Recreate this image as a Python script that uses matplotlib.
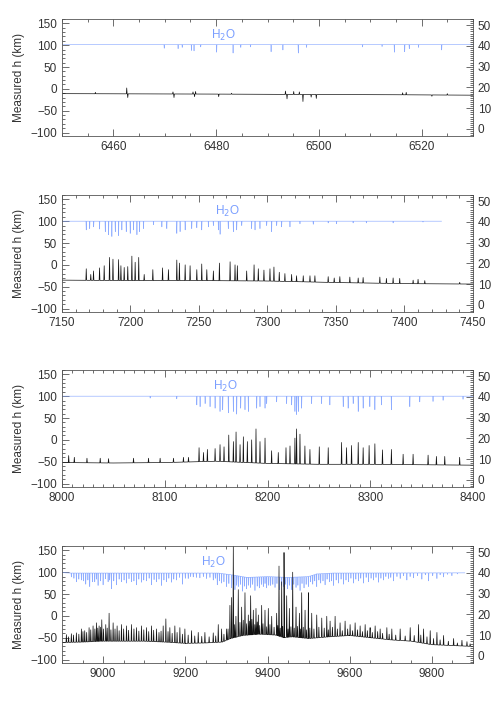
import numpy as np
import matplotlib.pyplot as plt
from matplotlib.ticker import MultipleLocator

plt.rcParams['font.family'] = ['Liberation Sans', 'DejaVu Sans']

# ---- panel 1 (6450-6530) ----
p1_base_x = [6450, 6465, 6480, 6500, 6515, 6530]
p1_base_y = [-11, -11.5, -12, -13, -13.5, -14.5]
p1_line_x = [6456.5, 6462.6, 6462.8, 6471.6, 6471.8, 6475.5, 6475.8, 6476.0, 6480.5, 6483,
             6493.5, 6493.8, 6495.1, 6496.2, 6496.9, 6498.5, 6499.5, 6516.3, 6517.0, 6522, 6525]
p1_line_y = [-8, 2, -20, -7, -20, -7, -18, -6, -18, -10,
             -5, -23, -6, -7, -29, -19, -22, -9, -8, -17, -11]
p1_h2o_base_x = [6450, 6530]
p1_h2o_base_y = [101.5, 101.5]
p1_h2o_x = [6469.9, 6472.6, 6473.4, 6475.2, 6475.7, 6477, 6480.1, 6483.3, 6484.8, 6486.7, 6490.7,
            6493, 6496, 6497.6, 6508.5, 6512.3, 6514.7, 6516.7, 6517.6, 6519.4, 6523.9]
p1_h2o_y = [93, 92, 95, 88, 87, 96, 84, 82, 95, 96, 85,
            89, 82, 95, 96, 97, 84, 85, 92, 95, 89]

# ---- panel 2 (7150-7450) ----
p2_base_x = [7150, 7200, 7250, 7300, 7350, 7400, 7450]
p2_base_y = [-35, -36, -36, -37, -40.5, -43, -44]
p2_line_x = [7167.7, 7171, 7173, 7177.4, 7180.8, 7184.7, 7187.2, 7191.3, 7193, 7195.4, 7198, 7201,
             7203.4, 7206, 7210, 7216.3, 7223.4, 7227.7, 7233.8, 7235.7, 7239.9, 7243.5, 7248.4,
             7252, 7255.7, 7260.5, 7264.9, 7272.7, 7276.3, 7278, 7284.8, 7290.2, 7293.3, 7297.4,
             7301.8, 7304.7, 7308.6, 7312.7, 7317.6, 7321.2, 7326.1, 7331, 7334.6, 7344.3,
             7348.7, 7352.8, 7360.1, 7366.2, 7369.8, 7382, 7386.8, 7391.7, 7396.5, 7406.3,
             7409.9, 7414.8, 7440.3]
p2_line_y = [-9, -22, -14, -7, -2, 17, 13, 12, -2, -6, -4, 20,
             6, 17, -22, -11, -7, -11, 11, 4, 0, -2, -11,
             2, -11, -14, 4, 7, 0, -2, -14, 0, -9, -12,
             -9, -5, -17, -20, -22, -25, -25, -25, -25, -27,
             -30, -27, -28, -30, -29, -28, -31, -30, -31, -35,
             -33, -36, -40]
p2_h2o_base_x = [7150, 7427]
p2_h2o_base_y = [100, 100]
p2_h2o_x = [7167.7, 7170.2, 7173.1, 7177.4, 7181.6, 7184, 7186.4, 7188.9, 7191.3, 7193.7, 7196.9,
            7199.8, 7202.2, 7204.7, 7206.6, 7209.5, 7216.8, 7222.9, 7226.5, 7233.8, 7236.2,
            7239.9, 7244.7, 7248.4, 7252, 7256.9, 7260.5, 7264.2, 7265.4, 7271.4, 7275.1,
            7277.5, 7281.2, 7288.4, 7290.9, 7294.5, 7299.4, 7303, 7306.7, 7310.3, 7316.4,
            7323.7, 7333.4, 7344.3, 7350.4, 7362.5, 7372.2, 7391.7, 7413.5]
p2_h2o_y = [80, 83, 87, 82, 76, 69, 65, 76, 67, 80, 76,
            72, 80, 69, 76, 83, 92, 87, 83, 72, 76,
            80, 83, 85, 80, 87, 90, 80, 70, 83, 76,
            80, 90, 83, 80, 83, 90, 76, 90, 87, 87,
            94, 93, 96, 94, 96, 96, 96, 98]

# ---- panel 3 (8000-8400) ----
p3_base_x = [8000, 8050, 8100, 8150, 8200, 8250, 8300, 8350, 8400]
p3_base_y = [-52, -53, -52, -49, -54, -56, -56, -57, -58]
p3_line_x = [8006.5, 8012, 8024.3, 8037.2, 8045.3, 8069.6, 8084.2, 8095.5, 8108.5, 8118.2, 8123.1,
             8133.4, 8137.7, 8141.5, 8149, 8153.8, 8157.7, 8162.3, 8166.8, 8169.4, 8173.3,
             8176.5, 8180.4, 8184.6, 8188.8, 8192.7, 8197.6, 8204, 8210.5, 8218, 8221.9,
             8226.7, 8228.3, 8231.6, 8236.4, 8241.3, 8250.4, 8259.1, 8272.1, 8276.9, 8281.8,
             8288.3, 8293.1, 8298.9, 8304.5, 8311.9, 8320.6, 8332, 8341.7, 8356.3, 8364.4,
             8372.5, 8387]
p3_line_y = [-36, -40, -42, -42, -43, -42, -42, -42, -42, -40, -40,
             -18, -29, -22, -20, -11, -16, 11, -4, 18, -11,
             7, -4, 0, 25, -4, 4, -25, -29, -18, -14,
             4, 25, 13, -14, -22, -16, -18, -6, -18, -13,
             -6, -18, -13, -9, -23, -22, -33, -33, -35, -38,
             -38, -40]
p3_h2o_base_x = [8000, 8400]
p3_h2o_base_y = [100, 100]
p3_h2o_x = [8085.8, 8111.7, 8131.2, 8134.4, 8139.3, 8144.1, 8149, 8153.8, 8156.4, 8161.9, 8166.8,
            8170, 8173.9, 8178.1, 8181.4, 8189.5, 8192.7, 8197.6, 8199.2, 8208.9, 8218.6,
            8223.5, 8226.7, 8228.3, 8230, 8233.2, 8242.9, 8252.6, 8260.7, 8273.7, 8278.5,
            8283.4, 8288.3, 8293.1, 8299.6, 8304.5, 8310.9, 8320.6, 8338.5, 8348.2, 8361.1,
            8370.9, 8390.3]
p3_h2o_y = [95.6, 94, 80, 76, 83, 76, 72.5, 65, 69, 62, 65,
            59, 72.5, 69, 65, 72.5, 76, 72.5, 83, 87, 83,
            80, 65, 58, 65, 72.5, 83, 83, 80, 76, 72.5,
            83, 65, 72.5, 76, 69, 80, 69, 76, 87, 88,
            90.6, 93]

# ---- panel 4 (8900-9900) ----
p4_base_x = [8900, 8950, 9000, 9100, 9150, 9200, 9250, 9290, 9310, 9340, 9380, 9420, 9440,
             9460, 9500, 9550, 9600, 9650, 9700, 9750, 9800, 9850, 9900]
p4_base_y = [-61, -60, -58, -58, -60, -63, -62, -60, -52, -45, -42, -44, -50,
             -48, -52, -48, -45, -50, -55, -58, -66, -68, -70]
p4_line_x = [8910.7, 8922.8, 8935, 8947.2, 8955.3, 8965.9, 8975.6, 8983.8, 8990.3, 8996.8,
             9006.5, 9014.6, 9024.4, 9034.1, 9044.7, 9056.9, 9069, 9081.2, 9093.4, 9105.6,
             9117.8, 9130, 9146.2, 9152.7, 9162.4, 9174.6, 9186.8, 9199, 9215.2, 9231.5,
             9247.7, 9268, 9280.2, 9288.3, 9300.5, 9308.6, 9312.7, 9316.8, 9323.2, 9328.9,
             9337.1, 9345.2, 9353.3, 9359, 9365.5, 9372, 9377.7, 9385.8, 9393.9, 9402,
             9410.2, 9422.3, 9428, 9434.5, 9440.2, 9446.7, 9453.2, 9461.3, 9469.4, 9477.6,
             9483.2, 9491.4, 9499.5, 9507.6, 9519.8, 9532, 9544.2, 9552.3, 9564.5, 9576.6,
             9588.8, 9601, 9613.2, 9625.4, 9637.6, 9649.7, 9661.9, 9674.1, 9690.4, 9702.5,
             9722.8, 9747.2, 9767.5, 9779.7, 9795.9, 9812.2, 9828.4, 9852.8, 9873.1, 9885.3]
p4_line_y = [-43, -41, -39, -30, -34, -27, -23, -16, -23, -9,
             -20, 6, -16, -23, -20, -23, -20, -27, -23, -27,
             -23, -30, -23, -7, -27, -23, -27, -30, -34, -38,
             -38, -39, -20, -30, -30, 24, 42, 160, -1, 60,
             20, 53, 2, 46, 13, 17, 2, 24, 13, 17,
             -1, 6, 114, 78, 145, 46, 17, 100, 20, 6,
             53, 13, 53, 6, 2, -5, -1, -12, -1, -16,
             -12, -20, -16, -23, -20, -27, -23, -30, -27, -30,
             -30, -27, -20, -30, -34, -38, -45, -52, -56, -59]
# weaker lines that fill the grass of panel 4
p4_weak_x = [8916, 8928, 8941, 8951, 8960, 8970, 8980, 8987, 8994, 9001, 9010, 9019, 9029,
             9039, 9050, 9062, 9075, 9087, 9099, 9111, 9123, 9136, 9141, 9158, 9168, 9180,
             9193, 9207, 9223, 9240, 9258, 9274, 9294, 9304, 9320, 9333, 9341, 9349, 9356,
             9362, 9369, 9375, 9381, 9389, 9398, 9406, 9416, 9425, 9431, 9437, 9450, 9457,
             9465, 9473, 9480, 9487, 9495, 9503, 9513, 9525, 9538, 9548, 9558, 9570, 9582,
             9595, 9607, 9619, 9631, 9643, 9655, 9668, 9680, 9696, 9712, 9735, 9757, 9773,
             9788, 9804, 9820, 9840, 9862, 9893]
p4_weak_y = [-48, -44, -42, -36, -38, -32, -30, -28, -26, -30, -28, -32, -30,
             -34, -30, -33, -30, -35, -32, -36, -33, -38, -35, -36, -40, -38,
             -42, -44, -46, -47, -48, -46, -42, -30, -20, -15, -10, -18, -12,
             -8, -20, -14, -22, -18, -25, -20, -26, -22, -28, -24, -30, -25,
             -28, -24, -30, -26, -32, -28, -30, -26, -28, -32, -26, -30, -34,
             -30, -34, -32, -36, -34, -38, -36, -40, -42, -44, -46, -45, -44,
             -48, -52, -55, -58, -62, -64]
p4_h2o_base_x = [8900, 8920, 9280, 9320, 9350, 9400, 9450, 9500, 9520, 9560, 9880]
p4_h2o_base_y = [99, 98, 98, 93, 88, 90, 88, 90, 96, 98, 98.5]
p4_h2o_x = [8922.8, 8935, 8947.2, 8957.8, 8967.5, 8979.7, 8987.8, 9000, 9012.2, 9020.3, 9032.5,
            9044.7, 9056.9, 9069, 9081.2, 9093.4, 9105.6, 9117.8, 9130, 9142.1, 9154.3,
            9166.5, 9178.7, 9193.3, 9207.1, 9219.3, 9235.5, 9251.8, 9268, 9277.8, 9288.3,
            9300.5, 9312.7, 9320.8, 9328.9, 9339.5, 9349.2, 9359, 9369.5, 9380.1, 9389.8,
            9398, 9407.7, 9418.3, 9428.8, 9438.6, 9448.3, 9458.9, 9469.4, 9479.2, 9488.9,
            9499.5, 9510.1, 9519.8, 9529.5, 9540.1, 9550.7, 9560.4, 9572.6, 9584.8, 9597,
            9609.1, 9621.3, 9633.5, 9645.7, 9657.9, 9670.1, 9682.2, 9694.4, 9706.6, 9722.8,
            9739.1, 9755.3, 9775.6, 9791.9, 9812.2, 9828.4, 9848.7]
p4_h2o_y = [89, 78, 82, 72.5, 67, 78, 69.6, 71, 78, 62, 71,
            78, 75, 78, 71, 77, 80, 71, 78, 69.6, 78,
            77, 82, 72.5, 85.5, 89, 87, 85.5, 82, 71, 75,
            67, 64, 60, 67, 56.5, 62, 65, 58, 64, 67,
            64, 69.6, 65, 60, 67, 62, 60, 65, 58, 64,
            67, 72.5, 67, 75, 71, 78, 69.6, 75, 72.5, 78,
            75, 80, 75, 78, 82, 77, 82, 85.5, 80, 85.5,
            82, 87, 84, 80, 85.5, 89, 92]
p4_h2o_weak_x = [8929, 8941, 8952, 8963, 8974, 8984, 8994, 9006, 9016, 9026, 9039, 9051, 9063,
                 9075, 9087, 9099, 9112, 9124, 9136, 9148, 9160, 9172, 9186, 9200, 9213, 9227,
                 9244, 9260, 9273, 9283, 9294, 9306, 9317, 9325, 9334, 9344, 9354, 9364, 9375,
                 9385, 9394, 9403, 9413, 9423, 9434, 9443, 9453, 9464, 9474, 9484, 9494, 9505,
                 9515, 9525, 9535, 9545, 9556, 9567, 9579, 9591, 9603, 9615, 9627, 9640, 9652,
                 9664, 9676, 9688, 9700, 9715, 9731, 9747, 9765, 9784, 9802, 9820, 9838, 9862]
p4_h2o_weak_y = [86, 84, 80, 82, 78, 84, 80, 85, 82, 80, 84, 82, 85,
                 80, 84, 82, 86, 83, 84, 82, 86, 84, 88, 86, 90, 88,
                 90, 88, 86, 80, 78, 74, 72, 70, 72, 68, 70, 72, 68,
                 72, 74, 70, 72, 74, 70, 72, 70, 72, 70, 74, 72, 78,
                 80, 82, 80, 84, 80, 82, 84, 82, 86, 84, 86, 88, 86,
                 88, 86, 90, 88, 90, 92, 90, 92, 94, 92, 94, 95, 96]

# label positions for H2O
h2o_label_x = [6481.5, 7271, 8159, 9268]
h2o_label_y = [123, 123, 122, 123]

panels = [
    (p1_base_x, p1_base_y, p1_line_x, p1_line_y, p1_h2o_base_x, p1_h2o_base_y, p1_h2o_x, p1_h2o_y),
    (p2_base_x, p2_base_y, p2_line_x, p2_line_y, p2_h2o_base_x, p2_h2o_base_y, p2_h2o_x, p2_h2o_y),
    (p3_base_x, p3_base_y, p3_line_x, p3_line_y, p3_h2o_base_x, p3_h2o_base_y, p3_h2o_x, p3_h2o_y),
    (p4_base_x, p4_base_y, p4_line_x + p4_weak_x, p4_line_y + p4_weak_y,
     p4_h2o_base_x, p4_h2o_base_y, p4_h2o_x + p4_h2o_weak_x, p4_h2o_y + p4_h2o_weak_y),
]
xlims = [(6450, 6530), (7150, 7450), (8000, 8400), (8900, 9900)]
xmajor = [20, 50, 100, 200]
xminor = [5, 10, 10, 50]
# half width of a line profile, in data units (well under a pixel)
halfw = [0.08, 0.3, 0.4, 1.0]

blue = '#7a9eff'
grey = '#333333'


def trace(bx, by, lx, ly, w):
    # continuum nodes plus a narrow triangular profile for every line
    lx = np.asarray(lx, float)
    ly = np.asarray(ly, float)
    floor = np.interp(lx, bx, by)
    xs = np.concatenate([bx, lx - w, lx, lx + w])
    ys = np.concatenate([by, floor, ly, floor])
    o = np.argsort(xs, kind='stable')
    return xs[o], ys[o]


fig = plt.figure(figsize=(4.91, 7.02), dpi=100)
bottoms = [136, 312, 487, 663]
for i, (bx, by, lx, ly, hbx, hby, hx, hy) in enumerate(panels):
    b = 1 - bottoms[i] / 702
    ax = fig.add_axes([62 / 491, b, 411 / 491, 117 / 702])

    # water transmission (blue)
    tx, ty = trace(hbx, hby, hx, hy, halfw[i] * 0.7)
    ax.plot(tx, ty, color=blue, lw=0.45, alpha=0.85)

    # measured spectrum (black)
    sx, sy = trace(bx, by, lx, ly, halfw[i])
    ax.plot(sx, sy, color='#111111', lw=0.5)

    ax.text(h2o_label_x[i], h2o_label_y[i], 'H$_2$O', color=blue, fontsize=8.5,
            ha='center', va='center')

    ax.set_xlim(*xlims[i])
    ax.set_ylim(-108, 160)
    ax.set_ylabel('Measured h (km)', fontsize=8.5, color=grey)
    ax.xaxis.set_major_locator(MultipleLocator(xmajor[i]))
    ax.xaxis.set_minor_locator(MultipleLocator(xminor[i]))
    ax.yaxis.set_major_locator(MultipleLocator(50))
    ax.yaxis.set_minor_locator(MultipleLocator(10))
    ax.tick_params(which='both', direction='in', top=True, right=False,
                   labelsize=8.5, colors=grey, width=0.5)
    ax.tick_params(which='major', length=5)
    ax.tick_params(which='minor', length=2.5)
    for s in ax.spines.values():
        s.set_linewidth(0.6)
        s.set_color('#555555')

    ax2 = ax.twinx()
    ax2.set_ylim(-3.4, 53)
    ax2.yaxis.set_major_locator(MultipleLocator(10))
    ax2.yaxis.set_minor_locator(MultipleLocator(1))
    ax2.tick_params(which='both', direction='in', labelsize=8.5, colors=grey, width=0.5)
    ax2.tick_params(which='major', length=5)
    ax2.tick_params(which='minor', length=2.5)
    for s in ax2.spines.values():
        s.set_visible(False)

fig.savefig('out.png', dpi=100)
